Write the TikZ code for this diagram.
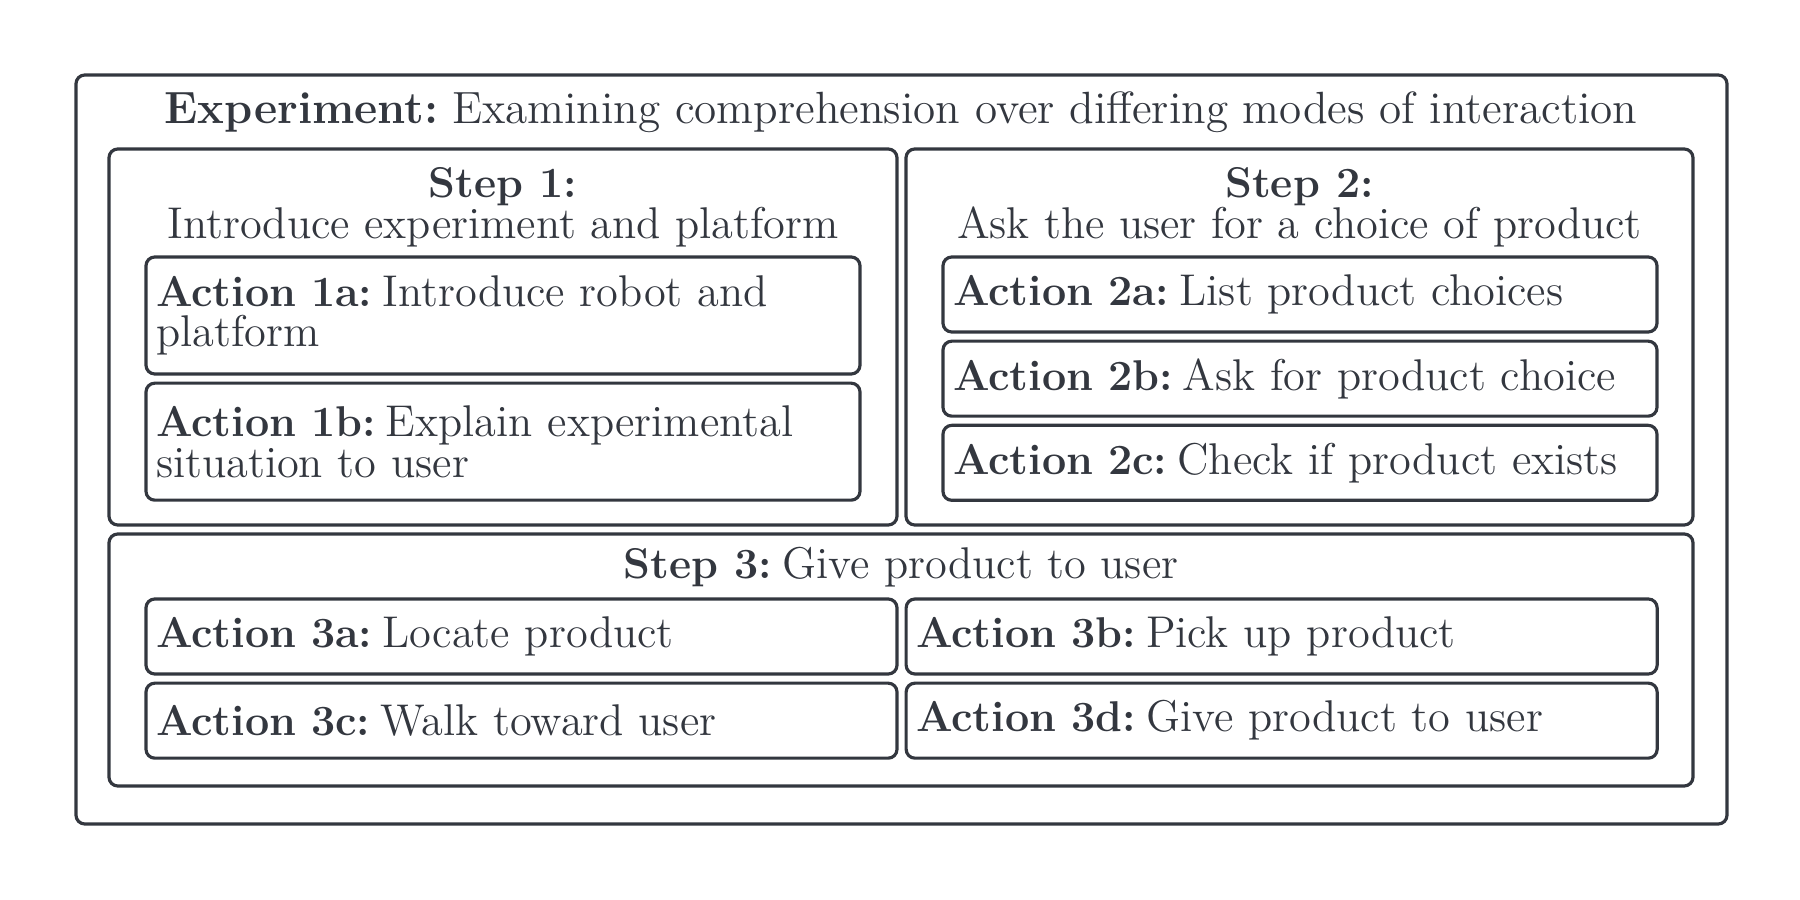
\documentclass[tikz,border=0pt]{standalone}
\usepackage{xcolor}
\usepackage{tikz}
\usetikzlibrary{positioning,calc}

\definecolor{ink}{HTML}{33373F}
\newcommand{\hd}[1]{{\fontsize{12.25}{11.6}\selectfont\bfseries #1}}
\newcommand{\lbl}[1]{\hd{#1}\hspace{0.23em}}
\frenchspacing

\begin{document}
\begin{tikzpicture}[
  node distance = 0.06cm,
  txt/.style      = {text=ink, font=\fontsize{12.65}{11.6}\selectfont},
  outerbox/.style = {draw=ink, line width=0.9pt, rounded corners=2.5pt,
                     minimum width=16.51cm, minimum height=7.49cm},
  stepbox/.style  = {draw=ink, line width=0.9pt, rounded corners=2.5pt},
  actbox/.style   = {stepbox, txt, align=left, text width=6.94cm,
                     inner xsep=0.1cm, inner ysep=0pt, minimum height=0.75cm},
  heading/.style  = {txt, align=center, inner sep=0pt},
]

\useasboundingbox (0,0) rectangle (18,9);

%% ─── frames ───────────────────────────────────────────────────────────────
\node[outerbox] (exp) at (9.015,4.505) {};
\node[heading, anchor=base, font=\fontsize{12.85}{11.8}\selectfont] (title) at (9.01,7.76)
  {\textbf{Experiment:}\hspace{0.3em}Examining comprehension over differing modes of interaction};

\node[stepbox, minimum width=7.88cm, minimum height=3.76cm] (s1) at (5.03,5.63) {};
\node[stepbox, minimum width=7.87cm, minimum height=3.76cm] (s2) at (12.995,5.63) {};
\node[stepbox, minimum width=15.84cm, minimum height=2.52cm] (s3) at (9.01,2.40) {};

\node[heading] (h1) at ($(s1.north)+(0,-0.60)$) {\hd{Step 1:}\\Introduce experiment and platform};
\node[heading] (h2) at ($(s2.north)+(0,-0.60)$) {\hd{Step 2:}\\Ask the user for a choice of product};
\node[heading, anchor=base] (h3) at ($(s3.north)+(0,-0.46)$) {\lbl{Step 3:}Give product to user};

%% ─── step 1 actions ───────────────────────────────────────────────────────
\node[actbox, minimum height=1.17cm, anchor=north west] (a1a) at ($(s1.north west)+(0.37,-1.08)$)
  {\lbl{Action 1a:}Introduce robot and\\platform};
\node[actbox, minimum height=1.17cm, below=of a1a] (a1b)
  {\lbl{Action 1b:}Explain experimental\\situation to user};

%% ─── step 2 actions ───────────────────────────────────────────────────────
\node[actbox, anchor=north west] (a2a) at ($(s2.north west)+(0.37,-1.08)$)
  {\lbl{Action 2a:}List product choices};
\node[actbox, below=of a2a] (a2b) {\lbl{Action 2b:}Ask for product choice};
\node[actbox, below=of a2b] (a2c) {\lbl{Action 2c:}Check if product exists};

%% ─── step 3 actions ───────────────────────────────────────────────────────
\node[actbox, text width=7.31cm, anchor=north west] (a3a) at ($(s3.north west)+(0.37,-0.65)$)
  {\lbl{Action 3a:}Locate product};
\node[actbox, text width=7.31cm, right=of a3a] (a3b) {\lbl{Action 3b:}Pick up product};
\node[actbox, text width=7.31cm, below=of a3a] (a3c) {\lbl{Action 3c:}Walk toward user};
\node[actbox, text width=7.31cm, below=of a3b] (a3d) {\lbl{Action 3d:}Give product to user};

\end{tikzpicture}
\end{document}
